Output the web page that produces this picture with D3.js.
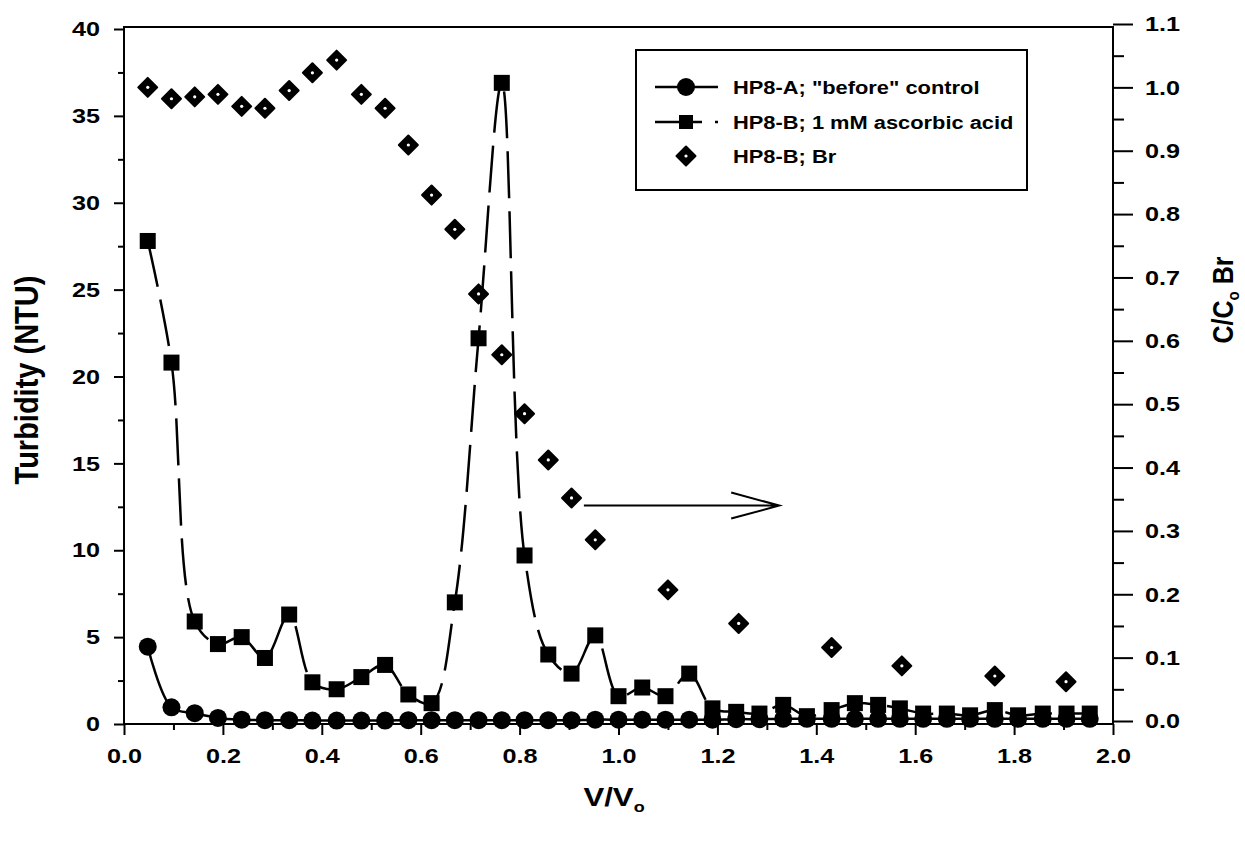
<!DOCTYPE html>
<html>
<head>
<meta charset="utf-8">
<script src="https://cdn.jsdelivr.net/npm/d3@7"></script>
<style>
  body { margin: 0; background: #fff; }
  text { font-family: "Liberation Sans", Arial, sans-serif; font-weight: bold; fill: #000; }
</style>
</head>
<body>
<svg id="chart" width="1245" height="844"></svg>
<script>
// V/Vo sample points (shared by both turbidity series)
var vRatio = [0.048, 0.096, 0.143, 0.190, 0.238, 0.285, 0.334, 0.381, 0.430, 0.480,
              0.528, 0.575, 0.622, 0.669, 0.717, 0.764, 0.810, 0.858, 0.905, 0.953,
              1.000, 1.048, 1.095, 1.143, 1.190, 1.238, 1.285, 1.333, 1.381, 1.431,
              1.478, 1.525, 1.569, 1.616, 1.664, 1.711, 1.761, 1.808, 1.858, 1.906, 1.953];

// HP8-A; "before" control  (turbidity, NTU)
var turbA = [4.45, 0.96, 0.62, 0.35, 0.25, 0.22, 0.22, 0.20, 0.20, 0.20,
             0.20, 0.22, 0.22, 0.22, 0.22, 0.22, 0.22, 0.22, 0.22, 0.25,
             0.25, 0.25, 0.25, 0.25, 0.25, 0.28, 0.28, 0.30, 0.30, 0.30,
             0.30, 0.30, 0.30, 0.30, 0.30, 0.30, 0.30, 0.30, 0.30, 0.30, 0.30];

// HP8-B; 1 mM ascorbic acid  (turbidity, NTU)
var turbB = [27.8, 20.8, 5.9, 4.6, 5.0, 3.8, 6.3, 2.4, 2.0, 2.7,
             3.4, 1.7, 1.2, 7.0, 22.2, 36.9, 9.7, 4.0, 2.9, 5.1,
             1.6, 2.1, 1.6, 2.9, 0.9, 0.7, 0.6, 1.1, 0.45, 0.8,
             1.2, 1.1, 0.9, 0.6, 0.6, 0.5, 0.8, 0.5, 0.6, 0.6, 0.6];

// HP8-B; Br  (C/Co, right axis)
var brX = [0.048, 0.096, 0.143, 0.190, 0.238, 0.285, 0.334, 0.381, 0.430, 0.480,
           0.528, 0.575, 0.622, 0.669, 0.717, 0.764, 0.810, 0.858, 0.905, 0.953,
           1.100, 1.243, 1.431, 1.573, 1.761, 1.905];
var brC = [1.000, 0.982, 0.985, 0.989, 0.970, 0.967, 0.995, 1.023, 1.043, 0.989,
           0.967, 0.909, 0.830, 0.776, 0.674, 0.578, 0.485, 0.412, 0.352, 0.286,
           0.207, 0.154, 0.116, 0.087, 0.071, 0.062];

var xTicks = [0, 0.2, 0.4, 0.6, 0.8, 1.0, 1.2, 1.4, 1.6, 1.8, 2.0];
var leftTicks = [0, 5, 10, 15, 20, 25, 30, 35, 40];
var rightTicks = [0, 0.1, 0.2, 0.3, 0.4, 0.5, 0.6, 0.7, 0.8, 0.9, 1.0, 1.1];

var legendLabels = ['HP8-A; "before" control', 'HP8-B; 1 mM ascorbic acid', 'HP8-B; Br'];

var svg = d3.select("#chart");

var x = d3.scaleLinear().domain([0, 2]).range([124, 1113]);
var yL = d3.scaleLinear().domain([0, 40]).range([724, 29]);
var yR = d3.scaleLinear().domain([0, 1.1]).range([721, 24]);

// frame
svg.append("rect")
    .attr("x", 124).attr("y", 27)
    .attr("width", 989).attr("height", 697)
    .attr("fill", "none").attr("stroke", "#000").attr("stroke-width", 2);

function styleAxis(g, fs) {
  g.select(".domain").remove();
  g.selectAll("line").attr("stroke", "#000").attr("stroke-width", 2);
  g.selectAll("text").attr("font-size", fs).attr("transform", "scale(1.2,1)");
}

// x axis
svg.append("g")
    .attr("transform", "translate(0,724)")
    .call(d3.axisBottom(x).tickValues(xTicks).tickSize(11).tickPadding(13).tickFormat(d3.format(".1f")))
    .call(styleAxis, 21);
svg.append("g")
    .attr("transform", "translate(0,724)")
    .call(d3.axisBottom(x).tickValues(d3.range(0.1, 2, 0.2)).tickSize(6).tickFormat(""))
    .call(styleAxis, 21);

// left axis
svg.append("g")
    .attr("transform", "translate(124,0)")
    .call(d3.axisLeft(yL).tickValues(leftTicks).tickSize(10).tickPadding(10).tickFormat(d3.format("d")))
    .call(styleAxis, 21);
svg.append("g")
    .attr("transform", "translate(124,0)")
    .call(d3.axisLeft(yL).tickValues(d3.range(2.5, 40, 5)).tickSize(6).tickFormat(""))
    .call(styleAxis, 21);

// right axis
svg.append("g")
    .attr("transform", "translate(1113,0)")
    .call(d3.axisRight(yR).tickValues(rightTicks).tickSize(20).tickPadding(6.7).tickFormat(d3.format(".1f")))
    .call(styleAxis, 21);
svg.append("g")
    .attr("transform", "translate(1113,0)")
    .call(d3.axisRight(yR).tickValues(d3.range(0.05, 1.1, 0.1)).tickSize(11).tickFormat(""))
    .call(styleAxis, 21);

// axis titles
svg.append("text")
    .attr("transform", "translate(38,380) rotate(-90) scale(1,1.15)")
    .attr("text-anchor", "middle")
    .attr("font-size", 29)
    .text("Turbidity (NTU)");

var rt = svg.append("text")
    .attr("transform", "translate(1233,300) rotate(-90) scale(1,1.15)")
    .attr("text-anchor", "middle")
    .attr("font-size", 25);
rt.append("tspan").text("C/C");
rt.append("tspan").attr("font-size", 15).attr("dy", 5).text("o");
rt.append("tspan").attr("dy", -5).text(" Br");

var xt = svg.append("text")
    .attr("transform", "translate(614,806) scale(1.2,1)")
    .attr("text-anchor", "middle")
    .attr("font-size", 26);
xt.append("tspan").text("V/V");
xt.append("tspan").attr("font-size", 15).attr("dy", 6).text("o");

// series
var curve = d3.curveCatmullRom.alpha(0.5);
var lineL = d3.line()
    .x(function(d) { return x(d[0]); })
    .y(function(d) { return yL(d[1]); })
    .curve(curve);

var dataA = vRatio.map(function(v, i) { return [v, turbA[i]]; });
var dataB = vRatio.map(function(v, i) { return [v, turbB[i]]; });
var dataBr = brX.map(function(v, i) { return [v, brC[i]]; });

svg.append("path")
    .datum(dataA)
    .attr("fill", "none").attr("stroke", "#000").attr("stroke-width", 2.5)
    .attr("d", lineL);

svg.append("path")
    .datum(dataB)
    .attr("fill", "none").attr("stroke", "#000").attr("stroke-width", 2.5)
    .attr("stroke-dasharray", "47,13")
    .attr("d", lineL);

svg.selectAll("circle.a")
    .data(dataA)
  .enter().append("circle")
    .attr("class", "a")
    .attr("cx", function(d) { return x(d[0]); })
    .attr("cy", function(d) { return yL(d[1]); })
    .attr("r", 9)
    .attr("fill", "#000");

svg.selectAll("rect.b")
    .data(dataB)
  .enter().append("rect")
    .attr("class", "b")
    .attr("x", function(d) { return x(d[0]) - 8; })
    .attr("y", function(d) { return yL(d[1]) - 8; })
    .attr("width", 16).attr("height", 16)
    .attr("fill", "#000");

var diamond = "M0,-9.5L9.5,0L0,9.5L-9.5,0Z";
var dg = svg.selectAll("g.br")
    .data(dataBr)
  .enter().append("g")
    .attr("class", "br")
    .attr("transform", function(d) { return "translate(" + x(d[0]) + "," + yR(d[1]) + ")"; });
dg.append("path").attr("d", diamond)
    .attr("fill", "#000").attr("stroke", "#000").attr("stroke-width", 2).attr("stroke-linejoin", "round");
dg.append("circle").attr("r", 1.6).attr("fill", "#fff");

// arrow pointing to right axis
var ax0 = x(0.93), ax1 = x(1.325), ay = yR(0.34);
svg.append("path")
    .attr("d", "M" + ax0 + "," + ay + "L" + ax1 + "," + ay +
               "M" + (ax1 - 48) + "," + (ay - 13) + "L" + ax1 + "," + ay + "L" + (ax1 - 48) + "," + (ay + 13))
    .attr("fill", "none").attr("stroke", "#000").attr("stroke-width", 2);

// legend
var legend = svg.append("g");
legend.append("rect")
    .attr("x", 636).attr("y", 50).attr("width", 391).attr("height", 140)
    .attr("fill", "#fff").attr("stroke", "#000").attr("stroke-width", 2);

var rowY = [87, 122, 156];
legend.append("line").attr("x1", 655).attr("x2", 718).attr("y1", rowY[0]).attr("y2", rowY[0])
    .attr("stroke", "#000").attr("stroke-width", 2.5);
legend.append("circle").attr("cx", 686).attr("cy", rowY[0]).attr("r", 9).attr("fill", "#000");

legend.append("line").attr("x1", 655).attr("x2", 718).attr("y1", rowY[1]).attr("y2", rowY[1])
    .attr("stroke", "#000").attr("stroke-width", 2.5).attr("stroke-dasharray", "47,13");
legend.append("rect").attr("x", 679).attr("y", rowY[1] - 7).attr("width", 14).attr("height", 14).attr("fill", "#000");

var lg = legend.append("g").attr("transform", "translate(686," + rowY[2] + ")");
lg.append("path").attr("d", diamond)
    .attr("fill", "#000").attr("stroke", "#000").attr("stroke-width", 2).attr("stroke-linejoin", "round");
lg.append("circle").attr("r", 1.6).attr("fill", "#fff");

legendLabels.forEach(function(t, i) {
  legend.append("text")
      .attr("transform", "translate(733," + (rowY[i] + 7) + ") scale(1.15,1)")
      .attr("font-size", 19)
      .text(t);
});
</script>
</body>
</html>
